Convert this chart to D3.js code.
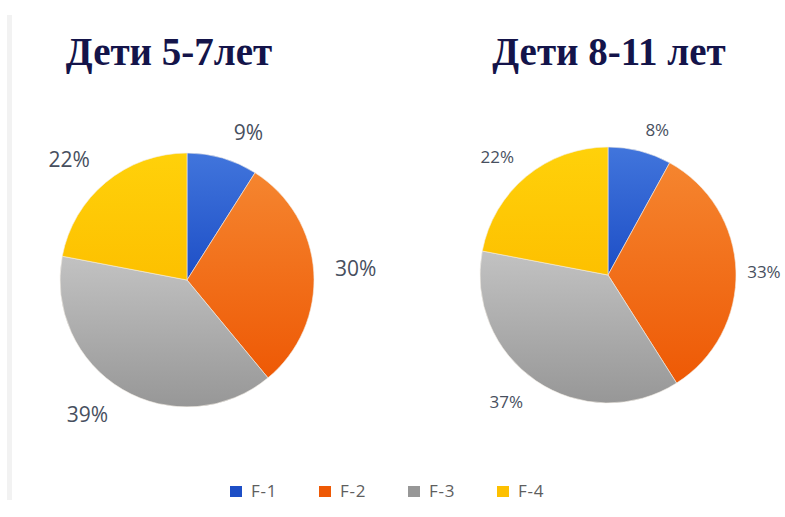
<!DOCTYPE html>
<html>
<head>
<meta charset="utf-8">
<script src="https://cdn.jsdelivr.net/npm/d3@7"></script>
<style>
  body { margin: 0; background: #fff; }
  svg { display: block; }
</style>
</head>
<body>
<svg id="chart" width="785" height="517"></svg>
<script>
(function () {
    'use strict';

    var categories = ["F-1", "F-2", "F-3", "F-4"];
    var titles = ["Дети 5-7лет", "Дети 8-11 лет"];
    var values57 = [9, 30, 39, 22];
    var values811 = [8, 33, 37, 22];

    // top / bottom shade of each slice
    var shades = [
        ["#4175dc", "#1d4ec6"],
        ["#f5852f", "#ee5905"],
        ["#c2c2c2", "#979797"],
        ["#ffd10a", "#fdc000"]
    ];

    var svg = d3.select("#chart");
    var defs = svg.append("defs");

    shades.forEach(function (s, i) {
        var grad = defs.append("linearGradient")
            .attr("id", "grad" + i)
            .attr("x1", 0).attr("y1", 0)
            .attr("x2", 0).attr("y2", 1);
        grad.append("stop").attr("offset", "0%").attr("stop-color", s[0]);
        grad.append("stop").attr("offset", "100%").attr("stop-color", s[1]);
    });

    // faint strip on the left edge
    svg.append("rect")
        .attr("x", 7).attr("y", 15)
        .attr("width", 5).attr("height", 485)
        .attr("fill", "#f2f2f2");

    // label nudges (excel "best fit" placement), px
    var pies = [
        {title: titles[0], values: values57, cx: 187, cy: 280, r: 127, labelR: 166, fontSize: 21, titleX: 169,
         nudge: [[15, 12], [3, -1], [-15, -8], [-12, 8]]},
        {title: titles[1], values: values811, cx: 608, cy: 275, r: 128, labelR: 158, fontSize: 17, titleX: 609,
         nudge: [[10, 8], [-2, 2], [-13, -4], [-10, 4]]}
    ];

    var pie = d3.pie().sort(null).value(function (d) { return d; });

    pies.forEach(function (p) {
        svg.append("text")
            .attr("x", p.titleX)
            .attr("y", 65)
            .attr("text-anchor", "middle")
            .attr("font-family", "Liberation Serif, Times New Roman, serif")
            .attr("font-weight", "bold")
            .attr("font-size", 39)
            .attr("fill", "#14144a")
            .text(p.title);

        var g = svg.append("g")
            .attr("transform", "translate(" + p.cx + "," + p.cy + ")");

        var arc = d3.arc().innerRadius(0).outerRadius(p.r);
        var labelArc = d3.arc().innerRadius(p.labelR).outerRadius(p.labelR);

        var arcs = pie(p.values);

        g.selectAll("path")
            .data(arcs)
            .enter().append("path")
            .attr("d", arc)
            .attr("fill", function (d, i) { return "url(#grad" + i + ")"; })
            .attr("stroke", "#f4efe6")
            .attr("stroke-width", 0.6);

        g.selectAll("text.lbl")
            .data(arcs)
            .enter().append("text")
            .attr("class", "lbl")
            .attr("transform", function (d, i) {
                var c = labelArc.centroid(d);
                return "translate(" + (c[0] + p.nudge[i][0]) + "," + (c[1] + p.nudge[i][1]) + ")";
            })
            .attr("dy", "0.35em")
            .attr("text-anchor", "middle")
            .attr("font-family", "Open Sans, sans-serif")
            .attr("font-size", p.fontSize)
            .attr("fill", "#474f5e")
            .text(function (d) { return d.data + "%"; });
    });

    // legend
    var legend = svg.append("g").attr("transform", "translate(230,486)");
    var item = legend.selectAll("g")
        .data(categories)
        .enter().append("g")
        .attr("transform", function (d, i) { return "translate(" + (i * 89) + ",0)"; });

    item.append("rect")
        .attr("width", 12).attr("height", 11)
        .attr("fill", function (d, i) { return shades[i][1]; });

    item.append("text")
        .attr("x", 21)
        .attr("y", 11)
        .attr("font-family", "Open Sans, sans-serif")
        .attr("font-size", 17)
        .attr("letter-spacing", 0.8)
        .attr("fill", "#5e5e5e")
        .text(function (d) { return d; });
})();
</script>
</body>
</html>
